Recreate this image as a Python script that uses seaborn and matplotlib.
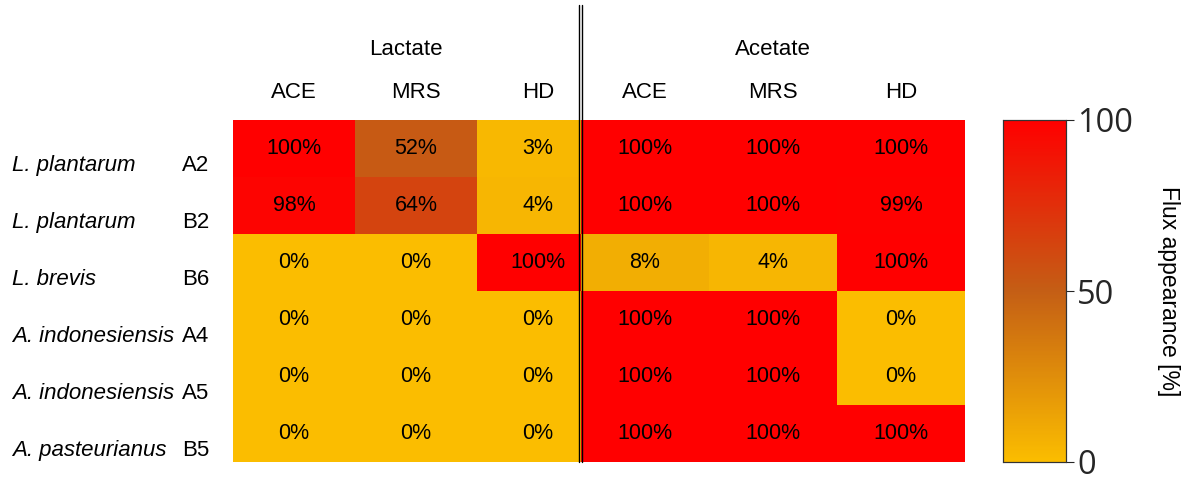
import numpy as np
import pandas as pd
import matplotlib
matplotlib.use('Agg')
import matplotlib.pyplot as plt
import seaborn as sns
from matplotlib.colors import LinearSegmentedColormap

# データ
species = ['L. plantarum', 'L. plantarum', 'L. brevis',
           'A. indonesiensis', 'A. indonesiensis', 'A. pasteurianus']
strains = ['A2', 'B2', 'B6', 'A4', 'A5', 'B5']
groups = ['Lactate', 'Acetate']
media = ['ACE', 'MRS', 'HD']

lactate_ace = [100, 98, 0, 0, 0, 0]
lactate_mrs = [52, 64, 0, 0, 0, 0]
lactate_hd = [3, 4, 100, 0, 0, 0]
acetate_ace = [100, 100, 8, 100, 100, 100]
acetate_mrs = [100, 100, 4, 100, 100, 100]
acetate_hd = [100, 99, 100, 0, 0, 100]

df_lac = pd.DataFrame({'ACE': lactate_ace, 'MRS': lactate_mrs, 'HD': lactate_hd}, index=strains)
df_ace = pd.DataFrame({'ACE': acetate_ace, 'MRS': acetate_mrs, 'HD': acetate_hd}, index=strains)

sns.set_style('white')
plt.rcParams['font.family'] = ['Liberation Sans', 'DejaVu Sans']
plt.rcParams['text.color'] = 'black'

cmap = LinearSegmentedColormap.from_list('flux', ['#FBBD00', '#C45E15', '#FF0000'])

W, H = 1190, 479
fig = plt.figure(figsize=(W / 100, H / 100), dpi=100)

def box(x0, x1, y0, y1):
    return [x0 / W, 1 - y1 / H, (x1 - x0) / W, (y1 - y0) / H]

ax_l = fig.add_axes(box(233, 599, 120, 462))
ax_r = fig.add_axes(box(581, 965, 120, 462))
cax = fig.add_axes(box(1003, 1066, 120, 462))

kw = dict(cmap=cmap, vmin=0, vmax=100, fmt='', linewidths=0,
          annot_kws={'fontsize': 15.5, 'color': 'black'})
sns.heatmap(df_lac, annot=df_lac.map(lambda v: f'{v}%'), cbar=False, ax=ax_l, **kw)
sns.heatmap(df_ace, annot=df_ace.map(lambda v: f'{v}%'), cbar_ax=cax, ax=ax_r, **kw)

for a, g, gx in ((ax_l, 'Lactate', 1.42), (ax_r, 'Acetate', 1.5)):
    a.set_xticks([])
    a.set_yticks([])
    a.set_xlabel('')
    a.set_ylabel('')
    for i, m in enumerate(media):
        a.text(i + 0.5, -0.48, m, ha='center', va='center', fontsize=16, color='black')
    a.text(gx, -1.23, g, ha='center', va='center', fontsize=16, color='black')

# 行ラベル
for i, (sp, st) in enumerate(zip(species, strains)):
    y = 1 - (120 + 57 * (i + 0.5) + 17) / H
    fig.text(12 / W, y, sp, ha='left', va='center', fontsize=16, style='italic')
    fig.text(182 / W, y, st, ha='left', va='center', fontsize=16)

# 二重線
for xp in (578.5, 581.5):
    fig.add_artist(plt.Line2D([xp / W, xp / W], [1 - 462 / H, 1 - 5 / H],
                              color='black', lw=1.0))

# カラーバー
cax.set_yticks([0, 50, 100])
cax.tick_params(labelsize=23.5, length=6, width=0.8, direction='out', right=True, pad=2)
for t in cax.get_yticklabels():
    t.set_family('Open Sans')
cax.set_ylabel('Flux appearance [%]', rotation=270, labelpad=34, fontsize=16.5, color='black')
for s in cax.spines.values():
    s.set_visible(True)
    s.set_linewidth(0.8)
    s.set_edgecolor('#333333')

plt.savefig('out.png', dpi=100)
